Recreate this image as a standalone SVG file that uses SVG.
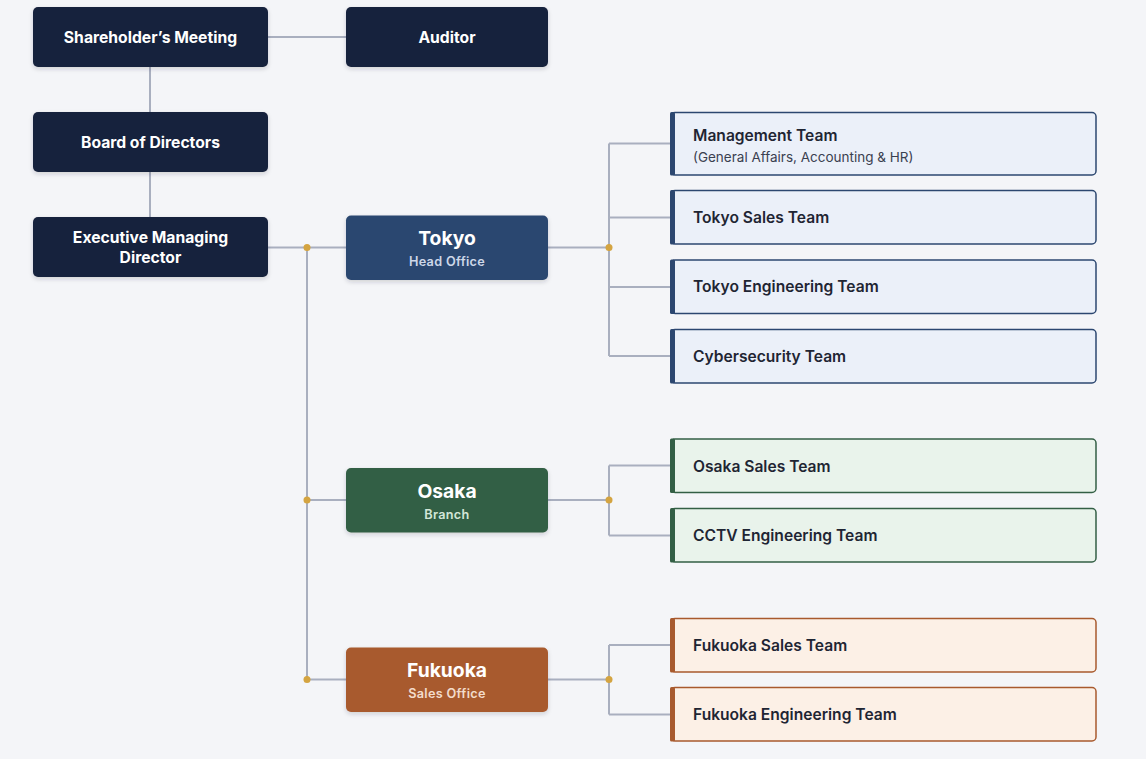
<svg xmlns="http://www.w3.org/2000/svg" width="1146" height="759" viewBox="0 0 1146 759">
<defs>
<filter id="sh" x="-10%" y="-20%" width="120%" height="150%">
<feDropShadow dx="0" dy="2" stdDeviation="2" flood-color="#1a2340" flood-opacity="0.18"/>
</filter>
<style>
.dark{fill:#18223d;filter:url(#sh)}
.wt{font-family:Inter,"Noto Sans",sans-serif;font-weight:700;font-size:15.7px;fill:#ffffff;text-anchor:middle}
.bt{font-family:Inter,"Noto Sans",sans-serif;font-weight:700;font-size:19.3px;fill:#ffffff;text-anchor:middle}
.bs{font-family:Inter,"Noto Sans",sans-serif;font-weight:600;font-size:12.7px;text-anchor:middle;letter-spacing:0.3px}
.tt{font-family:Inter,"Noto Sans",sans-serif;font-weight:600;font-size:15.6px;fill:#1f2533}
.ts{font-family:Inter,"Noto Sans",sans-serif;font-weight:400;font-size:13.5px;fill:#3a4050}
.ln{stroke:#a9afbf;stroke-width:2;fill:none}
.dot{fill:#d4a441}
.tk{fill:#ebf0f9;stroke:#2c4770;stroke-width:1.5}
.os{fill:#e9f3eb;stroke:#335f45;stroke-width:1.5}
.fk{fill:#fcf0e6;stroke:#a85a2e;stroke-width:1.5}
</style>
</defs>
<rect width="1146" height="759" fill="#f4f5f8"/>
<g id="connectors">
<path class="ln" d="M268 37H346"/>
<path class="ln" d="M150 67V112"/>
<path class="ln" d="M150 172V217"/>
<path class="ln" d="M268 247.5H346"/>
<path class="ln" d="M307 247.5V679.5"/>
<path class="ln" d="M307 500H346"/>
<path class="ln" d="M307 679.5H346"/>
<path class="ln" d="M548 247.5H609"/>
<path class="ln" d="M609 143.5V356"/>
<path class="ln" d="M609 143.5H671M609 217.5H671M609 287H671M609 356H671"/>
<path class="ln" d="M548 500H609"/>
<path class="ln" d="M609 465.5V535.5"/>
<path class="ln" d="M609 465.5H671M609 535.5H671"/>
<path class="ln" d="M548 679.5H609"/>
<path class="ln" d="M609 645V714.5"/>
<path class="ln" d="M609 645H671M609 714.5H671"/>
<circle class="dot" cx="307" cy="247.5" r="3.5"/>
<circle class="dot" cx="307" cy="500" r="3.5"/>
<circle class="dot" cx="307" cy="679.5" r="3.5"/>
<circle class="dot" cx="609" cy="247.5" r="3.5"/>
<circle class="dot" cx="609" cy="500" r="3.5"/>
<circle class="dot" cx="609" cy="679.5" r="3.5"/>
</g>
<g id="shareholders">
<rect class="dark" x="33" y="7" width="235" height="60" rx="5"/>
<text class="wt" x="150.5" y="42.5">Shareholder’s Meeting</text>
</g>
<g id="auditor">
<rect class="dark" x="346" y="7" width="202" height="60" rx="5"/>
<text class="wt" x="447" y="42.5">Auditor</text>
</g>
<g id="board">
<rect class="dark" x="33" y="112" width="235" height="60" rx="5"/>
<text class="wt" x="150.5" y="147.5">Board of Directors</text>
</g>
<g id="executive">
<rect class="dark" x="33" y="217" width="235" height="60" rx="5"/>
<text class="wt" x="150.5" y="242.5">Executive Managing</text>
<text class="wt" x="150.5" y="262.5">Director</text>
</g>
<g id="tokyo">
<rect x="346" y="215.5" width="202" height="64.5" rx="5" fill="#2c4770" filter="url(#sh)"/>
<text class="bt" x="447" y="245">Tokyo</text>
<text class="bs" x="447" y="266" fill="#cdd7e8">Head Office</text>
</g>
<g id="osaka">
<rect x="346" y="468" width="202" height="64.5" rx="5" fill="#335f45" filter="url(#sh)"/>
<text class="bt" x="447" y="497.5">Osaka</text>
<text class="bs" x="447" y="518.5" fill="#d3e6d8">Branch</text>
</g>
<g id="fukuoka">
<rect x="346" y="647.5" width="202" height="64.5" rx="5" fill="#a85a2e" filter="url(#sh)"/>
<text class="bt" x="447" y="677">Fukuoka</text>
<text class="bs" x="447" y="698" fill="#f3dccb">Sales Office</text>
</g>
<g id="management-team">
<rect class="tk" x="671" y="112.5" width="425" height="62.5" rx="4"/>
<rect x="670" y="112" width="5" height="63.5" rx="1.5" fill="#2c4770"/>
<text class="tt" x="693" y="141">Management Team</text>
<text class="ts" x="693" y="162">(General Affairs, Accounting &amp; HR)</text>
</g>
<g id="tokyo-sales-team">
<rect class="tk" x="671" y="190.5" width="425" height="53.5" rx="4"/>
<rect x="670" y="190" width="5" height="54.5" rx="1.5" fill="#2c4770"/>
<text class="tt" x="693" y="222.5">Tokyo Sales Team</text>
</g>
<g id="tokyo-engineering-team">
<rect class="tk" x="671" y="260" width="425" height="53.5" rx="4"/>
<rect x="670" y="259.5" width="5" height="54.5" rx="1.5" fill="#2c4770"/>
<text class="tt" x="693" y="292">Tokyo Engineering Team</text>
</g>
<g id="cybersecurity-team">
<rect class="tk" x="671" y="329.5" width="425" height="53.5" rx="4"/>
<rect x="670" y="329" width="5" height="54.5" rx="1.5" fill="#2c4770"/>
<text class="tt" x="693" y="361.5">Cybersecurity Team</text>
</g>
<g id="osaka-sales-team">
<rect class="os" x="671" y="439" width="425" height="53.5" rx="4"/>
<rect x="670" y="438.5" width="5" height="54.5" rx="1.5" fill="#335f45"/>
<text class="tt" x="693" y="471.5">Osaka Sales Team</text>
</g>
<g id="cctv-engineering-team">
<rect class="os" x="671" y="508.5" width="425" height="53.5" rx="4"/>
<rect x="670" y="508" width="5" height="54.5" rx="1.5" fill="#335f45"/>
<text class="tt" x="693" y="540.5">CCTV Engineering Team</text>
</g>
<g id="fukuoka-sales-team">
<rect class="fk" x="671" y="618.5" width="425" height="53.5" rx="4"/>
<rect x="670" y="618" width="5" height="54.5" rx="1.5" fill="#a85a2e"/>
<text class="tt" x="693" y="650.5">Fukuoka Sales Team</text>
</g>
<g id="fukuoka-engineering-team">
<rect class="fk" x="671" y="687.5" width="425" height="53.5" rx="4"/>
<rect x="670" y="687" width="5" height="54.5" rx="1.5" fill="#a85a2e"/>
<text class="tt" x="693" y="719.5">Fukuoka Engineering Team</text>
</g>
</svg>
